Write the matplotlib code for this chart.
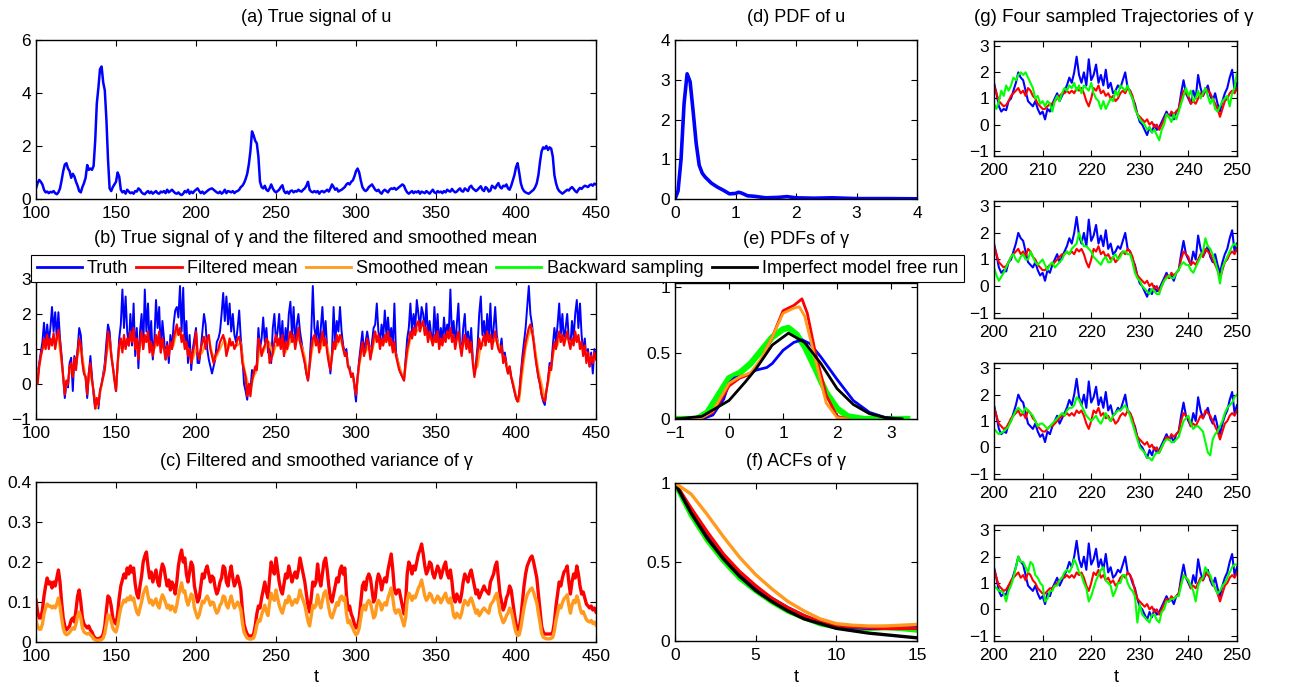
import numpy as np
import matplotlib
matplotlib.use('Agg')
import matplotlib.pyplot as plt
from matplotlib.lines import Line2D

plt.rcParams['font.family'] = ['Liberation Sans', 'DejaVu Sans']
plt.rcParams['font.size'] = 12

# ---------------- data ----------------
# time grids (sample positions)
t_full = np.arange(100, 451, 1)
t_half = np.arange(100, 451, 2)
t_zoom = np.arange(200, 250.01, 0.5)

# (a) true signal of u
u_truth = [
    0.40, 0.60, 0.72, 0.65, 0.55, 0.35, 0.25, 0.28, 0.22, 0.27,
    0.25, 0.30, 0.22, 0.18, 0.25, 0.40, 0.70, 1.05, 1.30, 1.35,
    1.15, 1.05, 0.80, 0.95, 0.85, 0.65, 0.50, 0.30, 0.25, 0.45,
    0.60, 0.80, 1.28, 1.10, 1.15, 1.10, 1.25, 2.20, 3.60, 4.20,
    4.90, 5.00, 4.40, 4.10, 3.00, 1.50, 0.40, 0.30, 0.45, 0.55,
    0.65, 1.00, 0.85, 0.35, 0.25, 0.30, 0.20, 0.35, 0.28, 0.22,
    0.25, 0.20, 0.30, 0.28, 0.40, 0.35, 0.25, 0.20, 0.18, 0.25,
    0.30, 0.22, 0.28, 0.20, 0.25, 0.30, 0.22, 0.20, 0.28, 0.25,
    0.30, 0.22, 0.35, 0.25, 0.30, 0.35, 0.28, 0.22, 0.20, 0.25,
    0.18, 0.15, 0.20, 0.30, 0.25, 0.35, 0.20, 0.28, 0.22, 0.30,
    0.35, 0.40, 0.30, 0.22, 0.28, 0.20, 0.25, 0.30, 0.35, 0.38,
    0.40, 0.35, 0.30, 0.25, 0.22, 0.28, 0.20, 0.25, 0.35, 0.22,
    0.30, 0.28, 0.25, 0.30, 0.22, 0.28, 0.30, 0.35, 0.45, 0.50,
    0.60, 0.75, 0.95, 1.30, 1.80, 2.55, 2.40, 2.20, 2.10, 1.60,
    0.65, 0.45, 0.40, 0.50, 0.35, 0.30, 0.40, 0.55, 0.40, 0.30,
    0.25, 0.30, 0.35, 0.45, 0.52, 0.30, 0.22, 0.28, 0.20, 0.30,
    0.32, 0.25, 0.30, 0.28, 0.35, 0.30, 0.28, 0.35, 0.40, 0.50,
    0.65, 0.35, 0.28, 0.25, 0.30, 0.25, 0.30, 0.20, 0.28, 0.30,
    0.25, 0.30, 0.35, 0.28, 0.40, 0.55, 0.45, 0.35, 0.40, 0.28,
    0.32, 0.35, 0.40, 0.45, 0.55, 0.60, 0.55, 0.65, 0.70, 0.85,
    1.05, 1.15, 1.00, 0.70, 0.45, 0.35, 0.30, 0.35, 0.45, 0.50,
    0.55, 0.45, 0.35, 0.30, 0.35, 0.25, 0.20, 0.30, 0.35, 0.30,
    0.25, 0.35, 0.40, 0.38, 0.42, 0.35, 0.40, 0.45, 0.50, 0.55,
    0.50, 0.35, 0.25, 0.20, 0.25, 0.30, 0.22, 0.28, 0.25, 0.30,
    0.20, 0.28, 0.25, 0.22, 0.30, 0.25, 0.20, 0.28, 0.35, 0.25,
    0.22, 0.30, 0.25, 0.28, 0.22, 0.30, 0.25, 0.35, 0.30, 0.28,
    0.38, 0.30, 0.25, 0.28, 0.35, 0.40, 0.30, 0.28, 0.40, 0.35,
    0.30, 0.45, 0.50, 0.40, 0.35, 0.30, 0.35, 0.42, 0.48, 0.35,
    0.30, 0.45, 0.40, 0.28, 0.32, 0.50, 0.45, 0.40, 0.52, 0.60,
    0.45, 0.40, 0.50, 0.48, 0.55, 0.40, 0.35, 0.50, 0.70, 0.90,
    1.20, 1.35, 1.00, 0.60, 0.40, 0.30, 0.25, 0.22, 0.20, 0.25,
    0.30, 0.35, 0.45, 0.60, 0.90, 1.40, 1.80, 1.95, 1.90, 2.00,
    1.85, 1.95, 1.90, 1.60, 0.90, 0.60, 0.40, 0.30, 0.25, 0.20,
    0.25, 0.30, 0.35, 0.32, 0.40, 0.45, 0.38, 0.30, 0.25, 0.35,
    0.42, 0.38, 0.45, 0.50, 0.48, 0.45, 0.52, 0.55, 0.50, 0.58,
    0.55,
]

# (b) true signal of gamma, filtered mean, smoothed mean
gamma_truth = [
    0.55, 0.10, 0.60, 0.90, 1.20, 1.75, 1.10, 1.70, 1.20, 1.60,
    2.20, 1.50, 2.05, 1.30, 2.05, 1.30, 0.80, 0.20, -0.40, 0.00,
    -0.10, 0.60, 0.75, -0.20, 0.80, 0.50, 1.00, 1.60, 1.40, 0.70,
    0.30, 0.20, -0.40, 0.30, 0.80, 0.20, -0.30, -0.70, -0.50, -0.70,
    -0.20, 0.00, 0.30, 0.60, 1.20, 1.70, 1.50, 0.90, 0.50, 0.20,
    -0.20, 0.50, 1.30, 1.70, 2.70, 1.60, 2.50, 1.50, 1.10, 2.00,
    1.10, 2.30, 0.80, 1.60, 0.45, 1.50, 2.00, 1.00, 2.70, 1.50,
    2.30, 1.10, 1.80, 0.70, 1.30, 2.40, 1.60, 2.20, 0.90, 1.80,
    1.30, 0.70, 1.20, 0.60, 1.40, 1.00, 1.70, 2.10, 2.20, 1.90,
    2.80, 1.50, 2.75, 1.10, 1.80, 0.60, 1.40, 0.40, 1.00, 1.30,
    1.60, 0.60, 0.60, 1.00, 1.50, 2.00, 1.70, 1.00, 0.70, 0.50,
    0.30, 0.50, 0.70, 1.20, 1.30, 1.50, 2.00, 2.60, 1.80, 2.50,
    1.70, 2.30, 1.50, 2.00, 1.40, 1.20, 1.60, 2.10, 1.30, 0.80,
    0.00, -0.20, -0.45, 0.00, -0.20, 0.40, 0.30, 0.30, 0.60, 1.60,
    1.00, 1.30, 1.90, 1.20, 1.60, 0.90, 1.00, 0.60, 1.60, 2.00,
    1.20, 1.50, 2.00, 1.10, 1.80, 0.80, 1.60, 1.20, 2.00, 2.35,
    1.40, 2.20, 1.10, 1.70, 2.00, 1.50, 1.20, 0.90, 0.60, 0.30,
    0.10, 0.60, 1.40, 2.80, 1.60, 1.30, 1.80, 1.00, 1.60, 2.20,
    1.30, 1.80, 1.00, 0.70, 0.30, 0.90, 2.20, 1.20, 1.80, 1.50,
    2.20, 1.50, 1.10, 0.90, 1.00, 0.50, 0.50, 0.20, 0.30, -0.10,
    -0.50, 0.20, 0.70, 1.10, 1.50, 0.90, 1.20, 1.50, 1.20, 0.80,
    1.20, 1.60, 1.70, 2.30, 1.50, 1.20, 1.70, 1.30, 2.10, 1.40,
    1.90, 1.30, 1.60, 1.00, 2.30, 0.90, 0.70, 0.50, 0.30, 0.20,
    0.10, 0.70, 1.30, 1.60, 2.30, 1.50, 2.00, 1.60, 2.40, 2.00,
    1.60, 2.20, 2.00, 1.50, 2.30, 1.30, 1.80, 1.40, 1.20, 2.20,
    1.30, 2.00, 1.10, 1.60, 1.20, 1.90, 1.30, 1.70, 1.50, 2.70,
    1.30, 1.80, 1.10, 1.70, 2.30, 1.20, 0.90, 1.60, 2.00, 1.10,
    1.50, 1.00, 1.60, 0.70, 0.30, 0.60, 1.10, 2.00, 2.50, 1.40,
    1.80, 1.20, 2.00, 1.30, 2.30, 1.10, 1.60, 2.20, 1.40, 1.10,
    1.00, 1.30, 0.70, 0.90, 0.60, 0.30, 0.50, 0.20, 0.00, -0.20,
    -0.40, -0.50, -0.30, 0.30, 0.80, 1.20, 1.60, 2.20, 2.80, 2.00,
    1.70, 1.30, 0.90, 0.50, 0.20, 0.00, -0.30, -0.50, -0.60, -0.20,
    0.10, 0.60, 0.50, 1.10, 1.60, 1.20, 1.70, 2.30, 1.40, 2.00,
    1.20, 1.60, 2.00, 1.30, 1.10, 1.80, 1.30, 2.00, 2.40, 1.60,
    2.30, 1.40, 0.90, 1.30, 0.70, 1.00, 0.50, 0.90, 0.30, 1.00,
    0.80,
]

gamma_filt = [
    0.30, 0.00, 0.50, 0.80, 1.00, 1.30, 1.00, 1.40, 1.00, 1.30,
    1.10, 1.45, 1.00, 1.30, 1.55, 1.20, 0.70, 0.20, -0.30, 0.10,
    0.00, 0.50, 0.60, 0.20, 0.75, 0.40, 0.90, 1.30, 1.10, 0.60,
    0.30, 0.20, -0.30, 0.30, 0.60, 0.10, -0.20, -0.70, -0.40, -0.60,
    -0.20, 0.00, 0.20, 0.40, 0.90, 1.50, 1.30, 0.80, 0.50, 0.10,
    -0.20, 0.60, 1.10, 1.30, 0.90, 1.40, 1.00, 1.30, 1.10, 1.50,
    1.20, 1.60, 1.00, 1.30, 0.70, 1.20, 1.50, 1.00, 1.40, 1.20,
    1.50, 0.90, 1.20, 0.80, 1.10, 1.40, 1.10, 1.50, 0.90, 1.30,
    1.00, 0.70, 1.10, 0.80, 1.20, 1.00, 1.30, 1.50, 1.70, 1.40,
    1.60, 1.20, 1.40, 1.00, 1.20, 0.80, 1.00, 0.60, 0.90, 1.10,
    1.50, 0.90, 0.70, 1.00, 1.20, 1.35, 1.00, 1.30, 1.40, 1.00,
    0.80, 0.60, 0.80, 0.90, 1.00, 1.20, 1.30, 1.40, 1.20, 0.80,
    1.00, 1.30, 1.10, 1.20, 1.00, 1.10, 1.30, 1.35, 1.10, 0.60,
    0.40, 0.20, -0.35, 0.00, -0.35, 0.10, 0.30, 0.50, 0.40, 1.30,
    1.10, 0.80, 1.00, 1.10, 1.30, 1.20, 0.60, 0.70, 0.90, 1.20,
    1.40, 1.10, 1.30, 1.00, 1.40, 0.80, 1.20, 1.00, 1.30, 1.50,
    1.20, 1.40, 1.00, 1.30, 1.60, 1.20, 1.00, 0.80, 0.60, 0.30,
    0.10, 0.50, 1.00, 1.30, 1.40, 1.10, 1.30, 0.90, 1.20, 1.50,
    1.10, 1.30, 0.90, 0.60, 0.40, 0.80, 1.20, 1.00, 1.40, 1.20,
    1.40, 1.30, 1.00, 0.80, 0.90, 0.50, 0.40, 0.20, 0.30, 0.00,
    -0.30, 0.20, 0.60, 0.90, 1.20, 0.80, 1.00, 1.30, 1.10, 0.70,
    1.00, 1.30, 1.50, 1.20, 1.40, 1.00, 1.30, 1.10, 1.40, 1.20,
    1.50, 1.10, 1.30, 0.90, 1.20, 0.80, 0.60, 0.40, 0.30, 0.20,
    0.10, 0.60, 1.00, 1.20, 1.50, 1.30, 1.60, 1.40, 1.70, 1.80,
    1.50, 1.70, 1.80, 1.40, 1.60, 1.20, 1.50, 1.30, 1.10, 1.40,
    1.20, 1.50, 1.00, 1.30, 1.10, 1.40, 1.20, 1.50, 1.30, 1.60,
    1.20, 1.40, 1.00, 1.30, 1.50, 1.10, 0.80, 1.20, 1.40, 1.00,
    1.30, 0.90, 1.20, 0.60, 0.20, 0.50, 0.90, 1.30, 1.00, 1.20,
    1.40, 1.10, 1.50, 1.20, 1.40, 1.00, 1.30, 1.50, 1.20, 1.00,
    0.90, 1.10, 0.60, 0.80, 0.50, 0.30, 0.50, 0.20, 0.00, -0.20,
    -0.40, -0.50, -0.30, 0.20, 0.60, 0.90, 1.20, 1.40, 1.60, 1.70,
    1.50, 1.20, 0.80, 0.50, 0.20, 0.00, -0.30, -0.45, -0.50, -0.20,
    0.10, 0.50, 0.40, 0.90, 1.20, 1.00, 1.30, 1.50, 1.20, 1.40,
    1.10, 1.30, 1.50, 1.20, 1.00, 1.30, 1.10, 1.50, 1.20, 1.40,
    1.00, 1.20, 0.80, 1.10, 0.60, 0.90, 0.50, 0.80, 0.60, 0.90,
    0.70,
]

gamma_smooth = [
    0.20, 0.50, 1.00, 1.10, 1.20, 1.20, 1.30, 1.30, 0.60, -0.20,
    0.10, 0.50, 0.50, 0.80, 1.10, 0.50, -0.10, 0.30, -0.20, -0.70,
    -0.30, 0.20, 0.80, 1.30, 0.50, -0.10, 1.00, 1.10, 1.20, 1.20,
    1.30, 1.20, 0.80, 1.30, 1.20, 1.30, 1.00, 1.00, 1.20, 1.20,
    1.00, 0.90, 1.00, 1.10, 1.50, 1.50, 1.30, 1.10, 0.90, 0.70,
    1.00, 0.80, 0.90, 1.20, 1.30, 0.90, 0.70, 0.90, 1.10, 1.30,
    1.00, 1.20, 1.10, 1.10, 1.20, 0.50, 0.10, -0.20, 0.20, 0.40,
    1.10, 0.90, 1.10, 1.20, 0.80, 1.10, 1.10, 1.10, 0.90, 1.10,
    1.30, 1.20, 1.30, 1.10, 0.80, 0.20, 0.80, 1.30, 1.20, 1.00,
    1.30, 1.10, 0.60, 1.00, 1.10, 1.30, 1.00, 0.80, 0.40, 0.20,
    -0.30, 0.50, 1.00, 0.90, 1.10, 0.90, 1.30, 1.30, 1.10, 1.20,
    1.30, 1.20, 1.00, 0.70, 0.40, 0.10, 0.80, 1.30, 1.40, 1.50,
    1.60, 1.70, 1.50, 1.30, 1.20, 1.20, 1.20, 1.20, 1.30, 1.40,
    1.40, 1.20, 1.30, 1.00, 1.20, 1.10, 1.00, 0.40, 0.50, 1.10,
    1.10, 1.30, 1.30, 1.20, 1.30, 1.00, 0.80, 0.60, 0.30, 0.10,
    -0.30, -0.50, 0.30, 1.00, 1.40, 1.60, 1.00, 0.40, 0.00, -0.40,
    0.00, 0.50, 1.00, 1.10, 1.40, 1.30, 1.30, 1.20, 1.20, 1.30,
    1.20, 1.00, 0.90, 0.80, 0.70, 0.70,
]

# (c) filtered and smoothed variance of gamma
var_filt = [
    0.105, 0.075, 0.060, 0.060, 0.080, 0.115, 0.140, 0.160, 0.145, 0.150,
    0.135, 0.150, 0.140, 0.160, 0.180, 0.150, 0.100, 0.060, 0.040, 0.030,
    0.035, 0.040, 0.055, 0.060, 0.050, 0.080, 0.115, 0.130, 0.100, 0.060,
    0.045, 0.040, 0.035, 0.040, 0.030, 0.025, 0.015, 0.010, 0.008, 0.008,
    0.010, 0.012, 0.020, 0.040, 0.080, 0.115, 0.110, 0.090, 0.060, 0.050,
    0.045, 0.070, 0.110, 0.140, 0.155, 0.170, 0.160, 0.185, 0.170, 0.190,
    0.175, 0.185, 0.145, 0.120, 0.110, 0.140, 0.165, 0.200, 0.215, 0.225,
    0.190, 0.160, 0.175, 0.150, 0.165, 0.180, 0.150, 0.140, 0.175, 0.195,
    0.185, 0.160, 0.140, 0.155, 0.130, 0.150, 0.140, 0.120, 0.150, 0.190,
    0.215, 0.230, 0.200, 0.210, 0.170, 0.150, 0.175, 0.200, 0.190, 0.140,
    0.120, 0.100, 0.110, 0.140, 0.170, 0.160, 0.180, 0.190, 0.170, 0.150,
    0.165, 0.160, 0.135, 0.120, 0.130, 0.150, 0.160, 0.190, 0.185, 0.150,
    0.140, 0.170, 0.190, 0.160, 0.140, 0.150, 0.165, 0.150, 0.130, 0.080,
    0.045, 0.030, 0.020, 0.015, 0.015, 0.015, 0.020, 0.040, 0.070, 0.090,
    0.085, 0.110, 0.130, 0.150, 0.125, 0.110, 0.160, 0.200, 0.180, 0.170,
    0.210, 0.180, 0.150, 0.130, 0.120, 0.145, 0.170, 0.160, 0.190, 0.170,
    0.150, 0.165, 0.175, 0.160, 0.180, 0.210, 0.190, 0.170, 0.150, 0.120,
    0.090, 0.075, 0.110, 0.150, 0.140, 0.150, 0.195, 0.160, 0.140, 0.170,
    0.200, 0.210, 0.180, 0.140, 0.110, 0.100, 0.120, 0.140, 0.160, 0.150,
    0.180, 0.190, 0.170, 0.185, 0.120, 0.080, 0.090, 0.070, 0.060, 0.045,
    0.035, 0.040, 0.060, 0.100, 0.140, 0.150, 0.130, 0.160, 0.170, 0.160,
    0.130, 0.100, 0.110, 0.150, 0.170, 0.160, 0.130, 0.150, 0.160, 0.150,
    0.180, 0.200, 0.220, 0.180, 0.130, 0.120, 0.130, 0.130, 0.110, 0.090,
    0.070, 0.100, 0.170, 0.200, 0.190, 0.170, 0.190, 0.180, 0.200, 0.220,
    0.230, 0.245, 0.220, 0.190, 0.170, 0.180, 0.200, 0.195, 0.170, 0.160,
    0.175, 0.190, 0.180, 0.160, 0.175, 0.190, 0.200, 0.170, 0.160, 0.180,
    0.150, 0.110, 0.100, 0.120, 0.110, 0.100, 0.120, 0.150, 0.170, 0.160,
    0.150, 0.170, 0.180, 0.160, 0.140, 0.120, 0.130, 0.110, 0.120, 0.130,
    0.140, 0.130, 0.125, 0.120, 0.150, 0.160, 0.170, 0.190, 0.200, 0.160,
    0.120, 0.100, 0.080, 0.090, 0.110, 0.120, 0.140, 0.130, 0.100, 0.070,
    0.045, 0.030, 0.035, 0.060, 0.100, 0.140, 0.170, 0.190, 0.200, 0.210,
    0.215, 0.200, 0.180, 0.160, 0.120, 0.080, 0.040, 0.025, 0.020, 0.020,
    0.020, 0.020, 0.020, 0.025, 0.050, 0.090, 0.120, 0.150, 0.140, 0.160,
    0.175, 0.180, 0.190, 0.150, 0.120, 0.150, 0.170, 0.160, 0.190, 0.170,
    0.140, 0.120, 0.125, 0.110, 0.095, 0.090, 0.085, 0.090, 0.080, 0.085,
    0.075,
]

var_smooth = [
    0.055, 0.040, 0.032, 0.032, 0.045, 0.070, 0.085, 0.095, 0.090, 0.090,
    0.085, 0.090, 0.085, 0.095, 0.110, 0.090, 0.060, 0.035, 0.022, 0.018,
    0.020, 0.024, 0.030, 0.035, 0.032, 0.045, 0.065, 0.075, 0.060, 0.035,
    0.025, 0.022, 0.020, 0.022, 0.018, 0.014, 0.008, 0.005, 0.004, 0.004,
    0.005, 0.006, 0.010, 0.022, 0.045, 0.068, 0.065, 0.052, 0.035, 0.028,
    0.025, 0.040, 0.065, 0.085, 0.095, 0.105, 0.100, 0.110, 0.105, 0.115,
    0.105, 0.110, 0.090, 0.075, 0.068, 0.085, 0.100, 0.120, 0.130, 0.138,
    0.115, 0.098, 0.105, 0.092, 0.100, 0.108, 0.092, 0.085, 0.105, 0.118,
    0.110, 0.098, 0.085, 0.092, 0.080, 0.090, 0.085, 0.075, 0.092, 0.115,
    0.132, 0.148, 0.125, 0.128, 0.105, 0.092, 0.105, 0.120, 0.115, 0.085,
    0.072, 0.060, 0.068, 0.085, 0.102, 0.098, 0.108, 0.115, 0.105, 0.092,
    0.100, 0.098, 0.082, 0.072, 0.078, 0.092, 0.098, 0.115, 0.112, 0.092,
    0.085, 0.102, 0.115, 0.098, 0.085, 0.092, 0.100, 0.092, 0.080, 0.048,
    0.025, 0.016, 0.010, 0.008, 0.007, 0.008, 0.010, 0.022, 0.042, 0.055,
    0.052, 0.068, 0.080, 0.092, 0.076, 0.066, 0.098, 0.122, 0.110, 0.104,
    0.130, 0.110, 0.092, 0.080, 0.072, 0.088, 0.104, 0.098, 0.115, 0.104,
    0.092, 0.100, 0.106, 0.098, 0.110, 0.130, 0.115, 0.104, 0.092, 0.072,
    0.052, 0.040, 0.065, 0.092, 0.085, 0.092, 0.118, 0.098, 0.085, 0.104,
    0.122, 0.128, 0.110, 0.085, 0.066, 0.060, 0.072, 0.085, 0.098, 0.092,
    0.110, 0.115, 0.104, 0.112, 0.072, 0.048, 0.054, 0.042, 0.035, 0.025,
    0.018, 0.022, 0.035, 0.060, 0.085, 0.092, 0.080, 0.098, 0.104, 0.098,
    0.080, 0.060, 0.066, 0.092, 0.104, 0.098, 0.080, 0.092, 0.098, 0.092,
    0.110, 0.122, 0.135, 0.110, 0.080, 0.072, 0.080, 0.080, 0.066, 0.054,
    0.040, 0.060, 0.104, 0.122, 0.115, 0.104, 0.115, 0.110, 0.122, 0.135,
    0.142, 0.155, 0.135, 0.115, 0.104, 0.110, 0.122, 0.118, 0.104, 0.098,
    0.106, 0.115, 0.110, 0.098, 0.106, 0.115, 0.122, 0.104, 0.098, 0.110,
    0.092, 0.066, 0.060, 0.072, 0.066, 0.060, 0.072, 0.092, 0.104, 0.098,
    0.092, 0.104, 0.110, 0.098, 0.085, 0.072, 0.080, 0.066, 0.072, 0.080,
    0.085, 0.080, 0.076, 0.072, 0.092, 0.098, 0.104, 0.115, 0.122, 0.098,
    0.072, 0.060, 0.048, 0.054, 0.066, 0.072, 0.085, 0.080, 0.060, 0.040,
    0.024, 0.016, 0.018, 0.035, 0.060, 0.085, 0.104, 0.118, 0.125, 0.132,
    0.135, 0.124, 0.110, 0.098, 0.072, 0.048, 0.022, 0.012, 0.010, 0.008,
    0.008, 0.008, 0.009, 0.012, 0.028, 0.054, 0.072, 0.092, 0.085, 0.098,
    0.108, 0.112, 0.118, 0.092, 0.072, 0.092, 0.104, 0.098, 0.115, 0.104,
    0.085, 0.072, 0.076, 0.066, 0.056, 0.052, 0.050, 0.054, 0.046, 0.050,
    0.042,
]

# (d) PDF of u
pdf_u_x = [0.0, 0.05, 0.10, 0.15, 0.20, 0.25, 0.30, 0.35, 0.40, 0.45, 0.50, 0.60,
           0.70, 0.80, 0.90, 1.00, 1.05, 1.10, 1.20, 1.30, 1.50, 1.70, 1.85, 2.00,
           2.30, 2.60, 3.00, 3.50, 4.00]
pdf_u_y = [0.0, 0.20, 1.00, 2.40, 3.15, 2.95, 2.20, 1.40, 0.85, 0.65, 0.55, 0.40,
           0.30, 0.22, 0.13, 0.14, 0.17, 0.15, 0.08, 0.07, 0.03, 0.04, 0.06, 0.03,
           0.02, 0.03, 0.01, 0.01, 0.005]

# (e) PDFs of gamma
pdf_truth_x = [-1.0, -0.5, -0.3, -0.1, 0.0, 0.1, 0.3, 0.5, 0.7, 0.8, 1.0, 1.2, 1.35,
               1.5, 1.7, 2.0, 2.3, 2.6, 2.9, 3.2]
pdf_truth_y = [0.0, 0.0, 0.03, 0.15, 0.27, 0.31, 0.33, 0.37, 0.39, 0.42, 0.52, 0.58,
               0.60, 0.57, 0.47, 0.30, 0.14, 0.05, 0.01, 0.0]
pdf_filt_x = [-1.0, -0.5, -0.3, -0.1, 0.0, 0.2, 0.4, 0.6, 0.8, 1.0, 1.2, 1.35, 1.45,
              1.6, 1.8, 2.0, 2.2]
pdf_filt_y = [0.0, 0.01, 0.05, 0.18, 0.25, 0.31, 0.34, 0.45, 0.62, 0.82, 0.86, 0.91,
              0.80, 0.50, 0.18, 0.02, 0.0]
pdf_smooth_x = [-1.0, -0.5, -0.3, -0.1, 0.0, 0.2, 0.4, 0.6, 0.8, 1.0, 1.2, 1.3, 1.4,
                1.6, 1.8, 2.0, 2.2]
pdf_smooth_y = [0.0, 0.01, 0.06, 0.20, 0.27, 0.32, 0.35, 0.46, 0.62, 0.80, 0.84, 0.85,
                0.78, 0.45, 0.12, 0.01, 0.0]
pdf_samp_x = [-1.0, -0.6, -0.4, -0.2, 0.0, 0.2, 0.4, 0.6, 0.8, 1.0, 1.1, 1.25, 1.4,
              1.6, 1.8, 2.0, 2.2, 2.5, 3.3]
pdf_samp_y = [0.0, 0.0, 0.05, 0.18, 0.31, 0.35, 0.42, 0.52, 0.62, 0.68, 0.69, 0.64,
              0.55, 0.38, 0.20, 0.08, 0.02, 0.0, 0.0]
pdf_free_x = [-1.0, -0.5, 0.0, 0.3, 0.5, 0.8, 1.1, 1.4, 1.7, 2.0, 2.3, 2.6, 2.9, 3.2]
pdf_free_y = [0.0, 0.02, 0.14, 0.28, 0.38, 0.56, 0.65, 0.58, 0.42, 0.23, 0.11, 0.04,
              0.01, 0.0]

# (f) ACFs of gamma
lag = np.arange(0, 16)
acf_truth = [1.0, 0.82, 0.66, 0.53, 0.42, 0.34, 0.27, 0.21, 0.16, 0.12, 0.10, 0.085,
             0.08, 0.08, 0.08, 0.085]
acf_filt = [1.0, 0.84, 0.69, 0.55, 0.44, 0.35, 0.27, 0.21, 0.16, 0.12, 0.10, 0.09,
            0.085, 0.08, 0.08, 0.08]
acf_smooth = [1.0, 0.93, 0.80, 0.66, 0.53, 0.42, 0.33, 0.25, 0.19, 0.14, 0.11, 0.10,
              0.095, 0.095, 0.10, 0.105]
acf_samp = [1.0, 0.80, 0.64, 0.51, 0.40, 0.32, 0.25, 0.19, 0.15, 0.11, 0.09, 0.08,
            0.08, 0.085, 0.08, 0.07]
acf_free = [1.0, 0.81, 0.65, 0.52, 0.41, 0.32, 0.25, 0.19, 0.14, 0.11, 0.08, 0.065,
            0.05, 0.04, 0.03, 0.02]

# (g) zoomed truth, filtered mean and four backward samples
g_truth = [
    1.60, 1.20, 0.70, 0.50, 0.60, 0.55, 0.90, 1.00, 1.30, 1.60,
    2.00, 1.80, 1.70, 1.30, 0.90, 0.80, 0.70, 0.90, 0.60, 0.40,
    0.50, 0.20, 0.60, 0.50, 0.80, 1.00, 1.20, 0.90, 1.10, 1.30,
    1.50, 1.80, 1.60, 2.00, 2.60, 1.90, 1.60, 2.00, 1.50, 2.50,
    1.70, 1.90, 2.30, 1.60, 1.90, 1.50, 2.10, 1.40, 1.60, 1.20,
    1.30, 1.50, 1.40, 1.70, 2.00, 1.40, 1.30, 1.00, 0.80, 0.40,
    0.10, 0.00, -0.20, -0.40, -0.10, -0.30, 0.00, -0.20, -0.10, 0.10,
    0.30, 0.50, 0.30, 0.40, 0.20, 0.50, 0.60, 1.20, 1.70, 1.20,
    1.00, 0.80, 1.30, 1.00, 1.90, 1.40, 1.10, 1.30, 1.50, 1.10,
    0.90, 1.20, 0.80, 0.50, 0.90, 1.20, 1.40, 1.80, 2.10, 1.30,
    1.60,
]
g_filt = [
    1.50, 1.20, 0.90, 0.80, 0.70, 0.75, 0.90, 1.10, 1.20, 1.30,
    1.40, 1.20, 1.30, 1.10, 1.40, 1.30, 1.10, 1.00, 0.80, 0.70,
    0.60, 0.60, 0.70, 0.80, 0.80, 0.90, 1.00, 1.10, 1.20, 1.20,
    1.30, 1.20, 1.30, 1.20, 1.40, 1.30, 1.40, 1.20, 0.90, 0.70,
    1.00, 1.40, 1.30, 1.50, 1.20, 1.30, 1.10, 1.20, 1.00, 1.10,
    0.90, 1.00, 1.20, 1.30, 1.20, 1.40, 1.30, 1.10, 0.70, 0.40,
    0.30, 0.20, 0.10, 0.20, 0.00, 0.10, -0.10, 0.00, -0.20, 0.00,
    0.20, 0.40, 0.30, 0.50, 0.40, 0.50, 0.60, 1.00, 1.30, 1.20,
    1.10, 0.80, 0.90, 0.80, 1.00, 1.20, 1.10, 1.40, 1.30, 1.20,
    1.00, 0.80, 0.60, 0.30, 0.60, 0.90, 1.00, 1.20, 1.30, 1.20,
    1.40,
]
g_samp1 = [
    0.80, 0.60, 0.90, 1.30, 1.10, 1.50, 1.30, 1.50, 1.80, 1.70,
    1.90, 2.00, 1.90, 2.00, 1.80, 1.60, 1.40, 1.00, 1.10, 0.80,
    0.90, 0.70, 0.90, 0.80, 0.50, 0.90, 1.10, 0.90, 1.20, 1.40,
    1.30, 1.50, 1.40, 1.60, 1.30, 1.50, 1.20, 1.50, 1.40, 1.30,
    1.60, 1.20, 1.00, 0.90, 0.60, 0.90, 0.60, 0.80, 1.00, 0.90,
    1.30, 1.10, 1.50, 1.40, 1.30, 1.50, 1.20, 1.00, 0.60, 0.40,
    0.20, 0.10, 0.00, -0.20, -0.10, -0.30, -0.20, -0.40, -0.60, -0.20,
    0.00, 0.40, 0.30, 0.10, 0.40, 0.20, 0.50, 0.80, 1.10, 1.40,
    1.10, 1.30, 0.90, 1.00, 1.30, 1.00, 1.20, 1.40, 1.10, 0.80,
    1.00, 0.60, 0.50, 0.70, 0.90, 1.00, 1.10, 0.70, 1.20, 1.40,
    2.00,
]
g_samp2 = [
    0.70, 0.40, 0.20, 0.35, 0.50, 0.70, 0.90, 1.10, 1.20, 1.00,
    0.90, 1.10, 1.20, 1.00, 1.00, 1.30, 1.10, 0.90, 0.80, 0.90,
    1.00, 0.80, 0.60, 0.80, 0.90, 0.70, 0.80, 0.90, 1.00, 1.20,
    1.30, 1.20, 1.40, 1.50, 1.60, 2.00, 1.70, 1.50, 1.50, 1.40,
    1.30, 1.10, 1.00, 0.90, 0.80, 1.00, 1.10, 0.90, 0.90, 1.10,
    1.20, 1.00, 1.10, 1.30, 1.30, 1.20, 1.20, 0.90, 0.50, 0.30,
    0.20, 0.00, -0.10, -0.20, -0.30, -0.10, -0.20, -0.30, -0.30, 0.00,
    0.20, 0.30, 0.40, 0.30, 0.30, 0.50, 0.60, 0.80, 0.90, 0.80,
    0.80, 0.60, 0.50, 0.70, 0.90, 1.10, 1.30, 1.80, 1.50, 1.40,
    1.20, 0.90, 0.60, 0.10, 0.70, 0.90, 1.10, 1.30, 1.50, 1.60,
    1.50,
]
g_samp3 = [
    0.70, 0.60, 0.50, 0.55, 0.60, 0.70, 0.80, 1.00, 1.20, 1.40,
    1.50, 1.40, 1.30, 1.50, 1.40, 1.30, 1.20, 1.00, 0.80, 0.90,
    0.90, 0.80, 0.70, 0.80, 0.90, 1.00, 1.10, 1.20, 1.30, 1.20,
    1.40, 1.50, 1.50, 1.60, 1.90, 1.80, 1.60, 1.40, 1.20, 1.10,
    1.00, 1.10, 1.20, 1.00, 0.90, 1.10, 1.30, 1.10, 1.00, 1.20,
    1.30, 1.40, 1.40, 1.50, 1.60, 1.40, 1.20, 0.90, 0.60, 0.30,
    0.00, -0.10, -0.20, -0.40, -0.40, -0.50, -0.30, -0.20, -0.20, 0.00,
    0.20, 0.30, 0.30, 0.20, 0.20, 0.30, 0.40, 0.70, 1.00, 1.10,
    1.20, 0.90, 0.70, 0.80, 0.80, 0.70, 0.60, 0.20, -0.20, -0.30,
    0.30, 0.50, 0.60, 0.80, 1.00, 1.30, 1.50, 1.60, 1.70, 1.90,
    2.00,
]
g_samp4 = [
    0.90, 0.80, 0.70, 0.70, 0.60, 0.30, 0.70, 0.90, 1.20, 1.60,
    2.00, 1.80, 1.80, 1.60, 1.40, 1.80, 1.70, 1.30, 1.20, 1.00,
    0.90, 0.30, 0.40, 0.70, 0.70, 0.90, 0.90, 1.10, 1.20, 1.40,
    1.50, 1.40, 1.60, 1.90, 1.70, 1.40, 1.30, 1.00, 0.80, 0.30,
    0.50, 0.80, 1.10, 1.30, 1.50, 1.60, 1.10, 1.00, 0.90, 0.50,
    0.70, 1.00, 1.00, 1.30, 1.30, 1.00, 0.80, 0.70, 0.50, -0.50,
    0.20, -0.20, -0.30, -0.40, -0.50, -0.20, -0.20, -0.40, -0.50, -0.10,
    0.00, 0.30, 0.30, 0.40, 0.40, 0.50, 0.50, 0.90, 1.30, 1.20,
    1.10, 0.90, 0.70, 0.30, 0.90, 1.10, 1.20, 1.60, 1.40, 1.30,
    1.00, 0.80, 0.60, 0.70, 0.90, 1.00, 1.20, 1.40, 1.60, 1.70,
    1.70,
]
g_samples = [g_samp1, g_samp2, g_samp3, g_samp4]

# ---------------- drawing ----------------
BLUE, RED, ORANGE, GREEN, BLACK = '#0000ff', '#ff0000', '#ff9a1e', '#00ff00', '#000000'
FS_TICK = 12.5
FS = 13
W, H = 1290, 687


def box(l, r, t, b):
    # pixel box -> figure fraction
    return [l / W, 1 - b / H, (r - l) / W, (b - t) / H]


def style(ax):
    ax.tick_params(direction='in', top=True, right=True, length=4, width=0.8,
                   labelsize=FS_TICK)
    ax.tick_params(axis='x', pad=5)
    ax.tick_params(axis='y', pad=3.5)
    for s in ax.spines.values():
        s.set_linewidth(1.0)


fig = plt.figure(figsize=(12.9, 6.87), dpi=100)

# (a)
ax = fig.add_axes(box(36, 596, 40, 199))
ax.plot(t_full, u_truth, color=BLUE, lw=1.8)
ax.set_xlim(100, 450)
ax.set_ylim(0, 6)
ax.set_xticks(range(100, 451, 50))
ax.set_yticks([0, 2, 4, 6])
style(ax)
fig.text(316 / W, 1 - 18 / H, '(a) True signal of u', ha='center', va='center', fontsize=FS)

# (b)
ax = fig.add_axes(box(36, 596, 279, 419))
ax.plot(t_full, gamma_truth, color=BLUE, lw=1.4)
ax.plot(t_half, gamma_smooth, color=ORANGE, lw=1.4)
ax.plot(t_full, gamma_filt, color=RED, lw=1.6)
ax.set_xlim(100, 450)
ax.set_ylim(-1, 3)
ax.set_xticks(range(100, 451, 50))
ax.set_yticks([-1, 0, 1, 2, 3])
style(ax)
fig.text(316 / W, 1 - 238 / H, '(b) True signal of γ and the filtered and smoothed mean',
         ha='center', va='center', fontsize=FS)

# (c)
ax = fig.add_axes(box(36, 596, 482, 642))
ax.plot(t_full, var_filt, color=RED, lw=2.4)
ax.plot(t_full, var_smooth, color=ORANGE, lw=2.4)
ax.set_xlim(100, 450)
ax.set_ylim(0, 0.4)
ax.set_xticks(range(100, 451, 50))
ax.set_yticks([0, 0.1, 0.2, 0.3, 0.4])
ax.set_yticklabels(['0', '0.1', '0.2', '0.3', '0.4'])
style(ax)
fig.text(316 / W, 1 - 462 / H, '(c) Filtered and smoothed variance of γ',
         ha='center', va='center', fontsize=FS)
fig.text(316 / W, 1 - 677 / H, 't', ha='center', va='center', fontsize=FS)

# (d)
ax = fig.add_axes(box(675, 917, 40, 199))
ax.plot(pdf_u_x, pdf_u_y, color=BLUE, lw=2.6)
ax.set_xlim(0, 4)
ax.set_ylim(0, 4)
ax.set_xticks([0, 1, 2, 3, 4])
ax.set_yticks([0, 1, 2, 3, 4])
style(ax)
fig.text(796 / W, 1 - 18 / H, '(d) PDF of u', ha='center', va='center', fontsize=FS)

# (e)
ax = fig.add_axes(box(675, 917, 283, 419))
ax.plot(pdf_samp_x, pdf_samp_y, color=GREEN, lw=4.5)
ax.plot(pdf_truth_x, pdf_truth_y, color=BLUE, lw=2)
ax.plot(pdf_filt_x, pdf_filt_y, color=RED, lw=2)
ax.plot(pdf_smooth_x, pdf_smooth_y, color=ORANGE, lw=2)
ax.plot(pdf_free_x, pdf_free_y, color=BLACK, lw=2)
ax.set_xlim(-1, 3.48)
ax.set_ylim(0, 1.03)
ax.set_xticks([-1, 0, 1, 2, 3])
ax.set_yticks([0, 0.5, 1])
ax.set_yticklabels(['0', '0.5', '1'])
style(ax)
fig.text(796 / W, 1 - 240 / H, '(e) PDFs of γ', ha='center', va='center', fontsize=FS)

# (f)
ax = fig.add_axes(box(675, 917, 483, 641))
ax.plot(lag, acf_samp, color=GREEN, lw=4)
ax.plot(lag, acf_truth, color=BLUE, lw=2.4)
ax.plot(lag, acf_filt, color=RED, lw=2.4)
ax.plot(lag, acf_free, color=BLACK, lw=2.4)
ax.plot(lag, acf_smooth, color=ORANGE, lw=2.4)
ax.set_xlim(0, 15)
ax.set_ylim(0, 1)
ax.set_xticks([0, 5, 10, 15])
ax.set_yticks([0, 0.5, 1])
ax.set_yticklabels(['0', '0.5', '1'])
style(ax)
fig.text(796 / W, 1 - 462 / H, '(f) ACFs of γ', ha='center', va='center', fontsize=FS)
fig.text(796 / W, 1 - 677 / H, 't', ha='center', va='center', fontsize=FS)

# (g)
rows = [(41, 156), (201, 318), (363, 479), (525, 641)]
for (top, bot), samp in zip(rows, g_samples):
    ax = fig.add_axes(box(994, 1237, top, bot))
    ax.plot(t_zoom, g_truth, color=BLUE, lw=1.5)
    ax.plot(t_zoom, g_filt, color=RED, lw=1.5)
    ax.plot(t_zoom, samp, color=GREEN, lw=1.5)
    ax.set_xlim(200, 250)
    ax.set_ylim(-1.2, 3.2)
    ax.set_xticks(range(200, 251, 10))
    ax.set_yticks([-1, 0, 1, 2, 3])
    style(ax)
fig.text(1114 / W, 1 - 18 / H, '(g) Four sampled Trajectories of γ',
         ha='center', va='center', fontsize=13.5)
fig.text(1116 / W, 1 - 677 / H, 't', ha='center', va='center', fontsize=FS)

# shared legend across (b) and (e)
handles = [Line2D([], [], color=c, lw=2) for c in (BLUE, RED, ORANGE, GREEN, BLACK)]
labels = ['Truth', 'Filtered mean', 'Smoothed mean', 'Backward sampling',
          'Imperfect model free run']
leg = fig.legend(handles, labels, loc='center', bbox_to_anchor=(497.5 / W, 1 - 268.5 / H),
                 ncol=5, fontsize=FS, frameon=True, fancybox=False, edgecolor='black',
                 framealpha=1, handlelength=2.5, handletextpad=0.3, columnspacing=0.45,
                 borderpad=0.3, borderaxespad=0)
leg.get_frame().set_linewidth(0.8)

fig.savefig('out.png', dpi=100)
